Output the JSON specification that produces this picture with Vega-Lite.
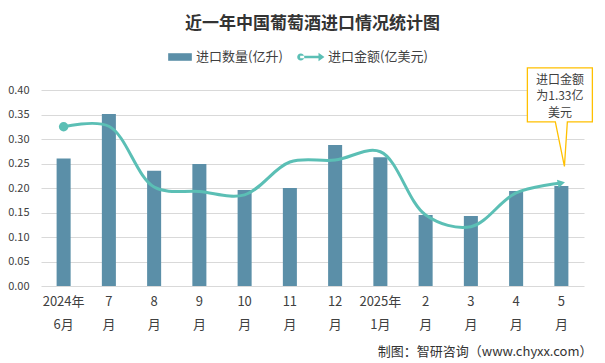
{
  "$schema": "https://vega.github.io/schema/vega-lite/v6.json",
  "width": 543,
  "height": 196,
  "padding": {"left": 7, "top": 15, "right": 10, "bottom": 5},
  "background": "#ffffff",
  "title": {
    "text": "近一年中国葡萄酒进口情况统计图",
    "font": "Noto Sans CJK SC",
    "fontSize": 17,
    "fontWeight": "bold",
    "color": "#333333",
    "anchor": "middle",
    "offset": 12
  },
  "config": {
    "font": "Noto Sans CJK SC",
    "view": {"stroke": null},
    "axis": {"labelFont": "Noto Sans CJK SC", "labelColor": "#404040", "titleFont": "Noto Sans CJK SC"},
    "legend": {"labelFont": "Noto Sans CJK SC"}
  },
  "datasets": {
    "main": [
      {"month": "2024年6月", "qty": 0.26, "amt": 0.325},
      {"month": "7月", "qty": 0.351, "amt": 0.326},
      {"month": "8月", "qty": 0.235, "amt": 0.202},
      {"month": "9月", "qty": 0.249, "amt": 0.193},
      {"month": "10月", "qty": 0.196, "amt": 0.186},
      {"month": "11月", "qty": 0.2, "amt": 0.253},
      {"month": "12月", "qty": 0.288, "amt": 0.257},
      {"month": "2025年1月", "qty": 0.263, "amt": 0.274},
      {"month": "2月", "qty": 0.145, "amt": 0.145},
      {"month": "3月", "qty": 0.143, "amt": 0.121},
      {"month": "4月", "qty": 0.194, "amt": 0.19},
      {"month": "5月", "qty": 0.204, "amt": 0.21}
    ],
    "note": [
      {"month": "5月", "y": 0.39, "label": "进口金额\n为1.33亿\n美元"}
    ]
  },
  "encoding": {
    "x": {
      "field": "month",
      "type": "nominal",
      "sort": null,
      "scale": {"paddingInner": 0.69, "paddingOuter": 0.345},
      "axis": {
        "title": "制图：智研咨询（www.chyxx.com）",
        "titleAnchor": "end",
        "titleAlign": "right",
        "titleX": 551,
        "titleFontSize": 13,
        "titleFontWeight": "normal",
        "titleColor": "#333333",
        "titlePadding": 14,
        "labelAngle": 0,
        "labelFontSize": 13,
        "labelPadding": 9,
        "labelLineHeight": 23,
        "labelExpr": "test(/年/, datum.label) ? [split(datum.label,'年')[0] + '年', split(datum.label,'年')[1]] : [replace(datum.label,'月',''), '月']",
        "ticks": false,
        "domain": false,
        "grid": false
      }
    }
  },
  "layer": [
    {
      "data": {"name": "main"},
      "mark": {"type": "bar", "color": "#5B8FA8"},
      "encoding": {
        "y": {
          "field": "qty",
          "type": "quantitative",
          "scale": {"domain": [0, 0.4]},
          "axis": {"title": null, "values": [0, 0.05, 0.1, 0.15, 0.2, 0.25, 0.3, 0.35, 0.4], "format": ".2f", "labelFontSize": 11, "labelPadding": 12, "labelOverlap": false, "ticks": false, "domain": false, "gridColor": "#d9d9d9", "gridWidth": 1}
        },
        "color": {
          "datum": "进口数量(亿升)",
          "type": "nominal",
          "scale": {"domain": ["进口数量(亿升)", "进口金额(亿美元)"], "range": ["#5B8FA8", "#5BBFB5"]},
          "legend": {
            "orient": "none",
            "legendX": 127,
            "legendY": -45,
            "direction": "horizontal",
            "title": null,
            "labelFontSize": 13,
            "labelColor": "#404040",
            "symbolSize": 560,
            "columnPadding": 14,
            "labelOffset": 4,
            "encode": {
              "symbols": {
                "update": {
                  "shape": [
                    {"test": "datum.value === '进口数量(亿升)'", "value": "M-1,-0.32H1V0.32H-1Z"},
                    {"value": "M-1.25,0a0.3,0.3 0 1,0 0.6,0a0.3,0.3 0 1,0 -0.6,0ZM-1,-0.1H0.7V0.1H-1ZM0.55,-0.35L1.05,0L0.55,0.35Z"}
                  ],
                  "fill": [
                    {"test": "datum.value === '进口数量(亿升)'", "value": "#5B8FA8"},
                    {"value": "#5BBFB5"}
                  ],
                  "strokeWidth": {"value": 0},
                  "opacity": {"value": 1}
                }
              }
            }
          }
        }
      }
    },
    {
      "data": {"name": "main"},
      "mark": {"type": "line", "interpolate": "catmull-rom", "strokeWidth": 3, "color": "#5BBFB5"},
      "encoding": {
        "y": {"field": "amt", "type": "quantitative",
          "axis": {"title": null, "values": [0, 0.05, 0.1, 0.15, 0.2, 0.25, 0.3, 0.35, 0.4], "format": ".2f", "labelFontSize": 11, "labelPadding": 12, "labelOverlap": false, "ticks": false, "domain": false, "gridColor": "#d9d9d9", "gridWidth": 1}},
        "color": {"datum": "进口金额(亿美元)", "type": "nominal"}
      }
    },
    {
      "data": {"name": "main"},
      "transform": [{"filter": "datum.month === '2024年6月'"}],
      "mark": {"type": "point", "shape": "circle", "filled": true, "size": 90, "color": "#5BBFB5", "opacity": 1},
      "encoding": {"y": {"field": "amt", "type": "quantitative",
          "axis": {"title": null, "values": [0, 0.05, 0.1, 0.15, 0.2, 0.25, 0.3, 0.35, 0.4], "format": ".2f", "labelFontSize": 11, "labelPadding": 12, "labelOverlap": false, "ticks": false, "domain": false, "gridColor": "#d9d9d9", "gridWidth": 1}}}
    },
    {
      "data": {"name": "main"},
      "transform": [{"filter": "datum.month === '5月'"}],
      "mark": {"type": "point", "shape": "triangle-right", "filled": true, "size": 70, "angle": -12, "color": "#5BBFB5", "opacity": 1},
      "encoding": {"y": {"field": "amt", "type": "quantitative",
          "axis": {"title": null, "values": [0, 0.05, 0.1, 0.15, 0.2, 0.25, 0.3, 0.35, 0.4], "format": ".2f", "labelFontSize": 11, "labelPadding": 12, "labelOverlap": false, "ticks": false, "domain": false, "gridColor": "#d9d9d9", "gridWidth": 1}}}
    },
    {
      "data": {"name": "note"},
      "mark": {
        "type": "point",
        "shape": "M-1,-0.83H1V0.83H0.23L0.14,2.2L-0.14,0.83H-1Z",
        "size": 4225,
        "filled": true,
        "fill": "#ffffff",
        "stroke": "#FFC000",
        "strokeWidth": 1.3,
        "opacity": 1,
        "xOffset": -1.5,
        "clip": false
      },
      "encoding": {"y": {"field": "y", "type": "quantitative",
          "axis": {"title": null, "values": [0, 0.05, 0.1, 0.15, 0.2, 0.25, 0.3, 0.35, 0.4], "format": ".2f", "labelFontSize": 11, "labelPadding": 12, "labelOverlap": false, "ticks": false, "domain": false, "gridColor": "#d9d9d9", "gridWidth": 1}}}
    },
    {
      "data": {"name": "note"},
      "mark": {
        "type": "text",
        "lineBreak": "\n",
        "lineHeight": 16.5,
        "fontSize": 12,
        "color": "#404040",
        "align": "center",
        "baseline": "middle",
        "dy": -15,
        "xOffset": -1.5,
        "clip": false
      },
      "encoding": {
        "y": {"field": "y", "type": "quantitative",
          "axis": {"title": null, "values": [0, 0.05, 0.1, 0.15, 0.2, 0.25, 0.3, 0.35, 0.4], "format": ".2f", "labelFontSize": 11, "labelPadding": 12, "labelOverlap": false, "ticks": false, "domain": false, "gridColor": "#d9d9d9", "gridWidth": 1}},
        "text": {"field": "label"}
      }
    }
  ]
}
